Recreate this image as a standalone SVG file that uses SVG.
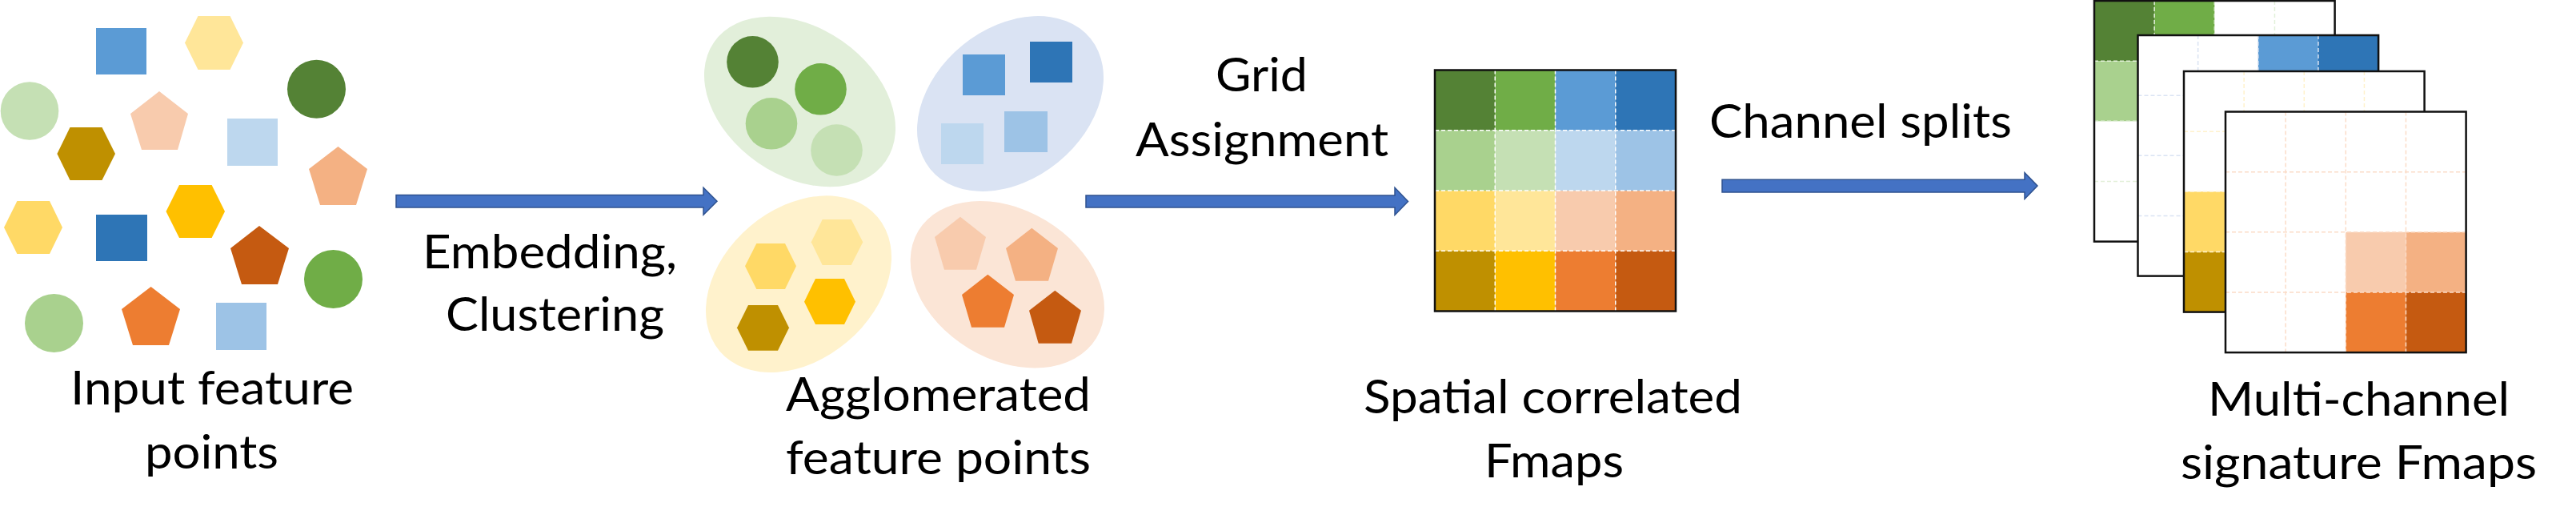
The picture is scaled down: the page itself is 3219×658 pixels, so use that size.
<svg xmlns="http://www.w3.org/2000/svg" width="3219" height="658" viewBox="0 0 3219 658">
<defs>
<style>
.lbl{font-family:"Lato","Liberation Sans",sans-serif;font-size:59px;fill:#000}
.arrow{fill:#4472C4;stroke:#2F528F;stroke-width:1.5}
.frame{fill:none;stroke:#111;stroke-width:2.5}
.gdash{stroke:#FFFFFF;stroke-width:1.5;stroke-dasharray:5 3;fill:none}
</style>
</defs>
<rect x="0" y="0" width="3219" height="658" fill="#FFFFFF"/>

<g id="input-points">
<rect x="120" y="35" width="63" height="58" fill="#5B9BD5"/>
<polygon points="247.5,20 287.5,20 304,53.5 287.5,87 247.5,87 231,53.5" fill="#FFE699"/>
<circle cx="395.5" cy="111.3" r="36.5" fill="#548235"/>
<circle cx="37" cy="138.5" r="36.3" fill="#C5E0B4"/>
<polygon points="87.5,159 127.5,159 144,192 127.5,225 87.5,225 71.4,192" fill="#BF9000"/>
<polygon points="199,114 235,142 222,187 177,187 163,142" fill="#F8CBAD"/>
<rect x="284" y="148" width="63" height="59" fill="#BDD7EE"/>
<polygon points="422.5,183 459,211 445,256 400,256 386,211" fill="#F4B183"/>
<polygon points="21.4,251 62,251 78,284 62,317 21.4,317 5,284" fill="#FFD966"/>
<rect x="120" y="268" width="64" height="58" fill="#2E75B6"/>
<polygon points="224,231 264.6,231 281,264 264.6,297 224,297 207.5,264" fill="#FFC000"/>
<polygon points="324,282 361,310 347,355 302,355 288,310" fill="#C55A11"/>
<circle cx="416.5" cy="348.5" r="36.5" fill="#70AD47"/>
<circle cx="67.5" cy="403.5" r="36.5" fill="#A9D18E"/>
<polygon points="188.6,358 225,386 211,431 166,431 152,386" fill="#ED7D31"/>
<rect x="270" y="378" width="63" height="59" fill="#9DC3E6"/>
<text class="lbl" x="88" y="505" textLength="354" lengthAdjust="spacingAndGlyphs">Input feature</text>
<text class="lbl" x="181" y="585" textLength="167" lengthAdjust="spacingAndGlyphs">points</text>
</g>

<g id="agglomerated">
<g id="cluster-green">
<ellipse cx="999.5" cy="127" rx="130.5" ry="92.5" transform="rotate(34.7 999.5 127)" fill="#E2EFDA"/>
<circle cx="940.5" cy="77.3" r="32.3" fill="#548235"/>
<circle cx="1025.5" cy="111.3" r="32.3" fill="#70AD47"/>
<circle cx="964" cy="154.3" r="32.3" fill="#A9D18E"/>
<circle cx="1045.5" cy="187.5" r="32.3" fill="#C5E0B4"/>
</g>
<g id="cluster-blue">
<ellipse cx="1262.5" cy="129.5" rx="129.1" ry="94.3" transform="rotate(-39.1 1262.5 129.5)" fill="#DAE3F3"/>
<rect x="1203" y="68" width="53" height="51" fill="#5B9BD5"/>
<rect x="1287" y="52" width="53" height="51" fill="#2E75B6"/>
<rect x="1176" y="154" width="53" height="51" fill="#BDD7EE"/>
<rect x="1255" y="139" width="54" height="51" fill="#9DC3E6"/>
</g>
<g id="cluster-yellow">
<ellipse cx="998" cy="354.7" rx="129.4" ry="94.3" transform="rotate(-40.3 998 354.7)" fill="#FFF2CC"/>
<polygon points="1027.7,274 1063.7,274 1078.3,302.3 1063.7,331 1027.7,331 1013.7,302.3" fill="#FFE699"/>
<polygon points="945.3,304 981,304 995,332.3 981,361 945.3,361 931,332.3" fill="#FFD966"/>
<polygon points="1019,348 1055,348 1069,376.7 1055,405 1019,405 1005,376.7" fill="#FFC000"/>
<polygon points="935,381 972,381 986,409.3 972,437.7 935,437.7 921,409.3" fill="#BF9000"/>
</g>
<g id="cluster-orange">
<ellipse cx="1258.8" cy="355.2" rx="129.8" ry="93.3" transform="rotate(31 1258.8 355.2)" fill="#FBE5D6"/>
<polygon points="1200,270.7 1232,296 1220,336.7 1180,336.7 1168,296" fill="#F8CBAD"/>
<polygon points="1289.3,284.7 1322,310 1310,350.7 1269,350.7 1257,310" fill="#F4B183"/>
<polygon points="1234.3,342.7 1267,368 1255,408.7 1214,408.7 1202,368" fill="#ED7D31"/>
<polygon points="1318.3,362.7 1351,387.7 1339,428.7 1297.7,428.7 1286,387.7" fill="#C55A11"/>
</g>
<text class="lbl" x="982" y="513" textLength="381" lengthAdjust="spacingAndGlyphs">Agglomerated</text>
<text class="lbl" x="982" y="592" textLength="381" lengthAdjust="spacingAndGlyphs">feature points</text>
</g>

<g id="spatial-fmap">
<rect x="1793" y="87.5" width="75.25" height="75.25" fill="#548235"/>
<rect x="1868.25" y="87.5" width="75.25" height="75.25" fill="#70AD47"/>
<rect x="1943.5" y="87.5" width="75.25" height="75.25" fill="#5B9BD5"/>
<rect x="2018.75" y="87.5" width="75.25" height="75.25" fill="#2E75B6"/>
<rect x="1793" y="162.75" width="75.25" height="75.25" fill="#A9D18E"/>
<rect x="1868.25" y="162.75" width="75.25" height="75.25" fill="#C5E0B4"/>
<rect x="1943.5" y="162.75" width="75.25" height="75.25" fill="#BDD7EE"/>
<rect x="2018.75" y="162.75" width="75.25" height="75.25" fill="#9DC3E6"/>
<rect x="1793" y="238" width="75.25" height="75.25" fill="#FFD966"/>
<rect x="1868.25" y="238" width="75.25" height="75.25" fill="#FFE699"/>
<rect x="1943.5" y="238" width="75.25" height="75.25" fill="#F8CBAD"/>
<rect x="2018.75" y="238" width="75.25" height="75.25" fill="#F4B183"/>
<rect x="1793" y="313.25" width="75.25" height="75.25" fill="#BF9000"/>
<rect x="1868.25" y="313.25" width="75.25" height="75.25" fill="#FFC000"/>
<rect x="1943.5" y="313.25" width="75.25" height="75.25" fill="#ED7D31"/>
<rect x="2018.75" y="313.25" width="75.25" height="75.25" fill="#C55A11"/>
<path class="gdash" d="M1868.25,87.5V388.5M1943.5,87.5V388.5M2018.75,87.5V388.5M1793,162.75H2094M1793,238H2094M1793,313.25H2094"/>
<rect class="frame" x="1793" y="87.5" width="301" height="301"/>
<text class="lbl" x="1704" y="516" textLength="473" lengthAdjust="spacingAndGlyphs">Spatial correlated</text>
<text class="lbl" x="1855" y="596" textLength="174" lengthAdjust="spacingAndGlyphs">Fmaps</text>
</g>

<g id="multi-channel-fmaps">
<g id="channel-1" transform="translate(2617 1)">
<rect x="0" y="0" width="300.6" height="300.6" fill="#FFFFFF"/>
<rect x="0" y="0" width="75.15" height="75.15" fill="#548235"/>
<rect x="75.15" y="0" width="75.15" height="75.15" fill="#70AD47"/>
<rect x="0" y="75.15" width="75.15" height="75.15" fill="#A9D18E"/>
<path d="M75.15,0V300.6M150.3,0V300.6M225.45,0V300.6M0,75.15H300.6M0,150.3H300.6M0,225.45H300.6" fill="none" stroke="#E2F0D9" stroke-width="1.5" stroke-dasharray="5 3"/>
<rect class="frame" x="0" y="0" width="300.6" height="300.6"/>
</g>
<g id="channel-2" transform="translate(2671.5 44)">
<rect x="0" y="0" width="300.6" height="300.6" fill="#FFFFFF"/>
<rect x="150.3" y="0" width="75.15" height="75.15" fill="#5B9BD5"/>
<rect x="225.45" y="0" width="75.15" height="75.15" fill="#2E75B6"/>
<path d="M75.15,0V300.6M150.3,0V300.6M225.45,0V300.6M0,75.15H300.6M0,150.3H300.6M0,225.45H300.6" fill="none" stroke="#DAE3F3" stroke-width="1.5" stroke-dasharray="5 3"/>
<rect class="frame" x="0" y="0" width="300.6" height="300.6"/>
</g>
<g id="channel-3" transform="translate(2729 89)">
<rect x="0" y="0" width="300.6" height="300.6" fill="#FFFFFF"/>
<rect x="0" y="150.3" width="75.15" height="75.15" fill="#FFD966"/>
<rect x="0" y="225.45" width="75.15" height="75.15" fill="#BF9000"/>
<path d="M75.15,0V300.6M150.3,0V300.6M225.45,0V300.6M0,75.15H300.6M0,150.3H300.6M0,225.45H300.6" fill="none" stroke="#FFF2CC" stroke-width="1.5" stroke-dasharray="5 3"/>
<rect class="frame" x="0" y="0" width="300.6" height="300.6"/>
</g>
<g id="channel-4" transform="translate(2781 139.5)">
<rect x="0" y="0" width="300.6" height="300.6" fill="#FFFFFF"/>
<rect x="150.3" y="150.3" width="75.15" height="75.15" fill="#F8CBAD"/>
<rect x="225.45" y="150.3" width="75.15" height="75.15" fill="#F4B183"/>
<rect x="150.3" y="225.45" width="75.15" height="75.15" fill="#ED7D31"/>
<rect x="225.45" y="225.45" width="75.15" height="75.15" fill="#C55A11"/>
<path d="M75.15,0V300.6M150.3,0V300.6M225.45,0V300.6M0,75.15H300.6M0,150.3H300.6M0,225.45H300.6" fill="none" stroke="#FBDCC8" stroke-width="1.5" stroke-dasharray="5 3"/>
<rect class="frame" x="0" y="0" width="300.6" height="300.6"/>
</g>
<text class="lbl" x="2759" y="519" textLength="377" lengthAdjust="spacingAndGlyphs">Multi-channel</text>
<text class="lbl" x="2725" y="598" textLength="445" lengthAdjust="spacingAndGlyphs">signature Fmaps</text>
</g>

<g id="connectors">
<path class="arrow" d="M495,243.5H879V234.3L896,251.3L879,268.3V259H495Z"/>
<text class="lbl" x="528" y="335" textLength="318" lengthAdjust="spacingAndGlyphs">Embedding,</text>
<text class="lbl" x="557" y="413" textLength="273" lengthAdjust="spacingAndGlyphs">Clustering</text>
<path class="arrow" d="M1357,244H1743V234.3L1759.5,251.5L1743,268.5V259H1357Z"/>
<text class="lbl" x="1519" y="114" textLength="115" lengthAdjust="spacingAndGlyphs">Grid</text>
<text class="lbl" x="1419" y="195" textLength="316" lengthAdjust="spacingAndGlyphs">Assignment</text>
<path class="arrow" d="M2152,224.3H2530V215.7L2546,232L2530,248.5V240H2152Z"/>
<text class="lbl" x="2136" y="172" textLength="378" lengthAdjust="spacingAndGlyphs">Channel splits</text>
</g>
</svg>
